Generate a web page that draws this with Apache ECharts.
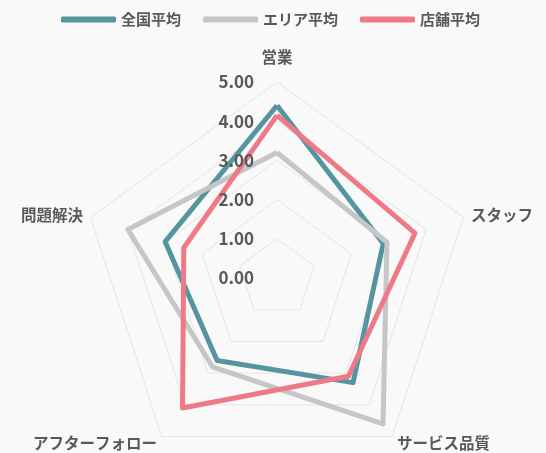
<!DOCTYPE html>
<html>
<head>
<meta charset="utf-8">
<script src="https://cdn.jsdelivr.net/npm/echarts@6/dist/echarts.min.js"></script>
<style>
  html, body { margin: 0; padding: 0; background: #f9f9f9; }
  #chart { width: 546px; height: 453px; }
</style>
</head>
<body>
<div id="chart"></div>
<script>
// 指標（上から時計回り）
const indicators = ["営業", "スタッフ", "サービス品質", "アフターフォロー", "問題解決"];
const seriesNames = ["全国平均", "エリア平均", "店舗平均"];
const zenkoku = [4.4, 2.85, 3.3, 2.6, 3.0];
const area = [3.2, 2.95, 4.6, 2.8, 4.0];
const tenpo = [4.15, 3.7, 3.1, 4.1, 2.5];
const ticks = [0, 1, 2, 3, 4, 5];

const colors = ["#55959f", "#c6c5c7", "#ef7a87"];
const textColor = "#595959";
const font = "'Noto Sans CJK JP', 'Noto Sans', sans-serif";
const center = [277, 278];
const radius = 196;

// ECharts のレーダーは反時計回りなので並びを入れ替える
const order = [0, 4, 3, 2, 1];
const reorder = (arr) => order.map((i) => arr[i]);

const chart = echarts.init(document.getElementById("chart"));

const option = {
  backgroundColor: "#f9f9f9",
  color: colors,
  legend: {
    top: 7,
    left: 56,
    itemWidth: 55,
    itemHeight: 6,
    itemGap: 22,
    icon: "roundRect",
    textStyle: { color: textColor, fontSize: 15, fontWeight: "bold", fontFamily: font },
    data: seriesNames
  },
  // 目盛りラベル用（上の軸だけ）、線より手前に描く
  polar: { center: center, radius: radius, zlevel: 2 },
  angleAxis: {
    startAngle: 90,
    show: false,
    min: 0,
    max: 360
  },
  radiusAxis: {
    zlevel: 2,
    z: 10,
    min: ticks[0],
    max: ticks[ticks.length - 1],
    interval: 1,
    axisLine: { show: false },
    axisTick: { show: false },
    splitLine: { show: false },
    axisLabel: {
      show: true,
      color: textColor,
      fontSize: 17,
      fontWeight: "bold",
      fontFamily: font,
      margin: 23,
      formatter: (v) => v.toFixed(2)
    }
  },
  radar: {
    center: center,
    radius: radius,
    startAngle: 90,
    splitNumber: 5,
    shape: "polygon",
    indicator: reorder(indicators).map((name) => ({ name: name, min: 0, max: 5 })),
    axisName: {
      color: textColor,
      fontSize: 15.5,
      fontWeight: "bold",
      fontFamily: font,
      formatter: (name) => (name === indicators[0] ? "{t|" + name + "}" : name),
      rich: {
        t: { fontSize: 15.5, fontWeight: "bold", fontFamily: font, color: textColor, padding: [0, 0, 9, 0] }
      }
    },
    nameGap: 8,
    axisLine: { show: false },
    splitArea: { show: false },
    splitLine: { lineStyle: { color: "#e6e6e6", width: 1 } }
  },
  series: [
    {
      type: "radar",
      zlevel: 0,
      z: 1,
      symbol: "none",
      data: [
        { name: seriesNames[0], value: reorder(zenkoku), lineStyle: { width: 5, color: colors[0] }, itemStyle: { color: colors[0] } },
        { name: seriesNames[1], value: reorder(area), lineStyle: { width: 5, color: colors[1] }, itemStyle: { color: colors[1] } },
        { name: seriesNames[2], value: reorder(tenpo), lineStyle: { width: 5, color: colors[2] }, itemStyle: { color: colors[2] } }
      ]
    }
  ]
};

chart.setOption(option);
</script>
</body>
</html>
